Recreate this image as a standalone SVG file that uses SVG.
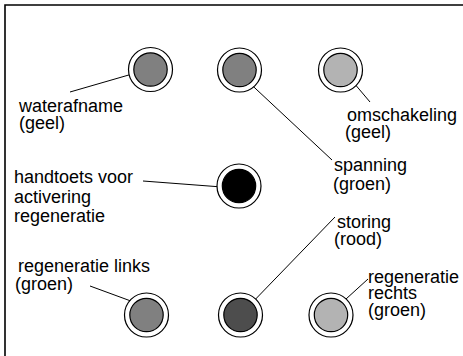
<svg xmlns="http://www.w3.org/2000/svg" width="463" height="356" viewBox="0 0 463 356">
<defs>
<style>
.ring{fill:#fff;stroke:#000;stroke-width:1.2}
.lamp{stroke:#000;stroke-width:1.2}
.g1{fill:#808080}
.g2{fill:#b3b3b3}
.g3{fill:#4d4d4d}
.g4{fill:#000}
.ln{stroke:#000;stroke-width:1;fill:none}
text{font-family:"Liberation Sans",Arial,sans-serif;font-size:18px;fill:#000}
</style>
</defs>
<rect x="0" y="0" width="463" height="356" fill="#fff"/>
<path d="M5,356 V5 H463" fill="none" stroke="#000" stroke-width="1.6"/>
<g id="connectors">
<line class="ln" x1="70" y1="92" x2="146" y2="70"/>
<line class="ln" x1="241" y1="75" x2="332" y2="160"/>
<line class="ln" x1="348" y1="76" x2="370" y2="102"/>
<line class="ln" x1="143" y1="181" x2="222" y2="187"/>
<line class="ln" x1="335" y1="217" x2="246" y2="309"/>
<line class="ln" x1="90" y1="286" x2="139" y2="304"/>
<line class="ln" x1="368" y1="279" x2="335" y2="309"/>
</g>
<g id="waterafname">
<circle class="ring" cx="150.5" cy="69.5" r="22"/>
<circle class="lamp g1" cx="150.5" cy="69.5" r="16.7"/>
<text x="19" y="112">waterafname</text>
<text x="19" y="129">(geel)</text>
</g>
<g id="spanning">
<circle class="ring" cx="239.5" cy="70" r="22"/>
<circle class="lamp g1" cx="239.5" cy="70" r="16.7"/>
<text x="334" y="171">spanning</text>
<text x="333" y="190">(groen)</text>
</g>
<g id="omschakeling">
<circle class="ring" cx="340.5" cy="70" r="22"/>
<circle class="lamp g2" cx="340.5" cy="70" r="16.7"/>
<text x="347" y="121">omschakeling</text>
<text x="345" y="138">(geel)</text>
</g>
<g id="handtoets">
<circle class="ring" cx="239" cy="186" r="22"/>
<circle class="lamp g4" cx="239" cy="186" r="16.7"/>
<text x="14" y="183">handtoets voor</text>
<text x="14" y="203">activering</text>
<text x="14" y="222">regeneratie</text>
</g>
<g id="storing">
<circle class="ring" cx="240.5" cy="315" r="22"/>
<circle class="lamp g3" cx="240.5" cy="315" r="16.7"/>
<text x="337" y="228">storing</text>
<text x="334" y="245">(rood)</text>
</g>
<g id="regeneratie-links">
<circle class="ring" cx="146.5" cy="315" r="22"/>
<circle class="lamp g1" cx="146.5" cy="315" r="16.7"/>
<text x="18" y="272">regeneratie links</text>
<text x="15" y="290">(groen)</text>
</g>
<g id="regeneratie-rechts">
<circle class="ring" cx="331" cy="315" r="22"/>
<circle class="lamp g2" cx="331" cy="315" r="16.7"/>
<text x="368" y="283">regeneratie</text>
<text x="368" y="299">rechts</text>
<text x="368" y="316">(groen)</text>
</g>
</svg>
